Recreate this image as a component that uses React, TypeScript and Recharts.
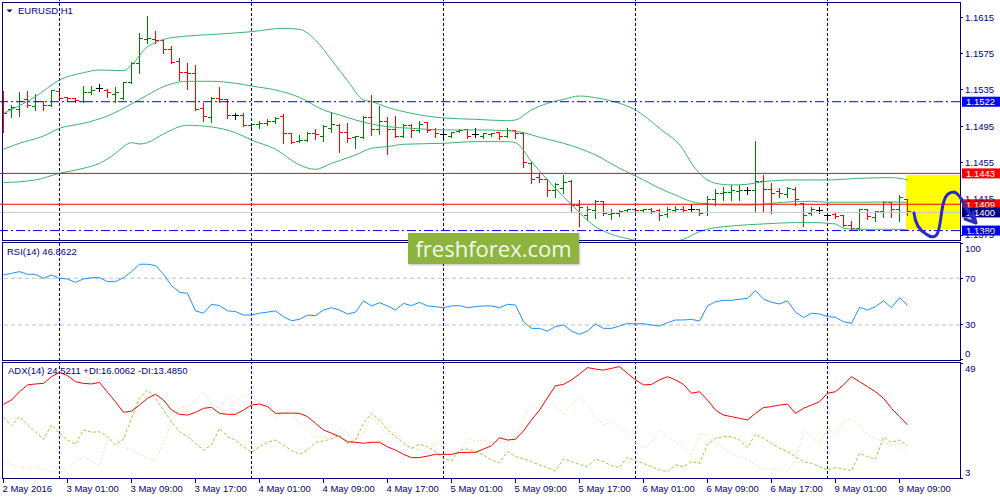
import React from 'react';
import { ComposedChart, Bar, Line, XAxis, YAxis, ReferenceLine, ReferenceArea } from 'recharts';

// ---------- titles ----------
const symbolTitle = 'EURUSD,H1';
const rsiTitle = 'RSI(14) 46.8622';
const adxTitle = 'ADX(14) 24.5211 +DI:16.0062 -DI:13.4850';

// ---------- OHLC (H1 bars, 2 May 17:00 -> 9 May 10:00) ----------
const opens = [
  1.15276, 1.15129, 1.15136, 1.15239, 1.15166, 1.15221, 1.1518, 1.15335, 1.15268, 1.15254,
  1.15221, 1.15327, 1.15364, 1.15349, 1.15305, 1.15254, 1.1543, 1.15643, 1.15908, 1.15908,
  1.15893, 1.1579, 1.15658, 1.1554, 1.15526, 1.15144, 1.15048, 1.15254, 1.15239, 1.15063,
  1.15063, 1.14953, 1.14967, 1.14982, 1.15004, 1.15055, 1.14865, 1.14784, 1.14798, 1.14872,
  1.14835, 1.14927, 1.1496, 1.14879, 1.14828, 1.14828, 1.15048, 1.14916, 1.14997, 1.14916,
  1.14842, 1.1496, 1.14901, 1.14989, 1.14916, 1.14857, 1.14842, 1.14894, 1.14909, 1.14857,
  1.14835, 1.14857, 1.14879, 1.14842, 1.14901, 1.14872, 1.14541, 1.14387, 1.14358, 1.14247,
  1.14266, 1.14343, 1.14079, 1.13961, 1.1402, 1.14123, 1.13972, 1.13983, 1.1402, 1.14027,
  1.1402, 1.14034, 1.1402, 1.13972, 1.1402, 1.14034, 1.14034, 1.14027, 1.14093, 1.14145,
  1.14203, 1.14218, 1.14233, 1.14247, 1.14247, 1.14339, 1.14255, 1.14229, 1.14196, 1.14255,
  1.14093, 1.1399, 1.1402, 1.13961, 1.13976, 1.13961, 1.13858, 1.13821, 1.14027, 1.13946,
  1.14005, 1.14108, 1.14027, 1.14137,
];
const highs = [
  1.15342, 1.1518, 1.15327, 1.15342, 1.15305, 1.15228, 1.15349, 1.15342, 1.15276, 1.15265,
  1.15393, 1.15393, 1.15412, 1.15364, 1.15379, 1.15441, 1.15654, 1.15974, 1.16168, 1.15999,
  1.159, 1.15834, 1.15698, 1.15643, 1.15625, 1.15202, 1.15268, 1.15379, 1.15254, 1.151,
  1.15092, 1.14989, 1.15011, 1.15026, 1.15055, 1.15085, 1.14872, 1.1485, 1.14886, 1.14923,
  1.14964, 1.15111, 1.14974, 1.14989, 1.14842, 1.15063, 1.15294, 1.15173, 1.15048, 1.15063,
  1.14974, 1.14974, 1.15011, 1.14997, 1.14931, 1.14909, 1.14886, 1.14916, 1.14916, 1.14927,
  1.14879, 1.14879, 1.14886, 1.14931, 1.14909, 1.14886, 1.1456, 1.14438, 1.14365, 1.14328,
  1.14413, 1.14358, 1.14137, 1.14071, 1.14137, 1.1413, 1.14034, 1.14027, 1.14042, 1.14045,
  1.14042, 1.14045, 1.14034, 1.14056, 1.14071, 1.14071, 1.14093, 1.14034, 1.14181, 1.14255,
  1.14277, 1.14303, 1.14303, 1.14284, 1.14791, 1.14413, 1.14321, 1.14266, 1.14277, 1.14277,
  1.14101, 1.14064, 1.14056, 1.1399, 1.1399, 1.13972, 1.13909, 1.14034, 1.14034, 1.1402,
  1.14123, 1.14119, 1.14189, 1.14145,
];
const lows = [
  1.1489, 1.15048, 1.15066, 1.15166, 1.15129, 1.15129, 1.15173, 1.15239, 1.15228, 1.15213,
  1.15213, 1.15305, 1.15342, 1.15276, 1.15213, 1.15254, 1.15423, 1.1554, 1.15864, 1.15864,
  1.15753, 1.15643, 1.1546, 1.15357, 1.15129, 1.15011, 1.15, 1.15221, 1.15041, 1.15026,
  1.14953, 1.14916, 1.14934, 1.1496, 1.14989, 1.14769, 1.14762, 1.14776, 1.14784, 1.14813,
  1.14784, 1.1489, 1.1467, 1.1478, 1.14714, 1.1482, 1.14853, 1.14865, 1.14644, 1.14835,
  1.14835, 1.14835, 1.1489, 1.1489, 1.14828, 1.14828, 1.14835, 1.14886, 1.14817, 1.14835,
  1.1482, 1.14842, 1.14806, 1.14835, 1.1482, 1.14505, 1.14321, 1.14339, 1.14181, 1.14167,
  1.14211, 1.1402, 1.13847, 1.13917, 1.13935, 1.13972, 1.13924, 1.13961, 1.14005, 1.13998,
  1.14005, 1.1399, 1.13917, 1.13954, 1.14005, 1.14005, 1.1402, 1.13972, 1.13972, 1.14082,
  1.14137, 1.14137, 1.14137, 1.14203, 1.14009, 1.1402, 1.13998, 1.14174, 1.14174, 1.14082,
  1.13851, 1.13972, 1.1399, 1.13935, 1.13935, 1.13847, 1.13807, 1.13807, 1.13924, 1.13909,
  1.13954, 1.13946, 1.13909, 1.13972,
];
const closes = [
  1.15092, 1.15158, 1.15221, 1.15173, 1.15221, 1.15173, 1.15342, 1.15254, 1.15254, 1.15228,
  1.15324, 1.15349, 1.15364, 1.1532, 1.15327, 1.15437, 1.15643, 1.15922, 1.15919, 1.15893,
  1.1579, 1.1565, 1.1554, 1.15526, 1.15136, 1.15055, 1.15254, 1.15239, 1.1507, 1.15063,
  1.1496, 1.14967, 1.14982, 1.14997, 1.15033, 1.14865, 1.14776, 1.14791, 1.14872, 1.14857,
  1.14945, 1.14974, 1.14879, 1.1482, 1.14835, 1.15048, 1.14916, 1.14997, 1.14916, 1.14842,
  1.14953, 1.14901, 1.14964, 1.14901, 1.14865, 1.14857, 1.14879, 1.14905, 1.14842, 1.14857,
  1.14872, 1.14865, 1.14835, 1.14901, 1.14865, 1.14549, 1.14358, 1.14365, 1.14247, 1.14303,
  1.14328, 1.14071, 1.14056, 1.14027, 1.14123, 1.13983, 1.1399, 1.14012, 1.14027, 1.1402,
  1.14027, 1.14012, 1.13961, 1.14027, 1.14034, 1.1402, 1.14034, 1.13983, 1.14145, 1.14211,
  1.14225, 1.14247, 1.14247, 1.14247, 1.14339, 1.14255, 1.14211, 1.14203, 1.14262, 1.14137,
  1.13961, 1.14034, 1.1402, 1.13961, 1.13954, 1.13858, 1.13821, 1.14027, 1.13954, 1.14005,
  1.14108, 1.14027, 1.14167, 1.14005,
];

// ---------- Bollinger bands (read at sample bars) ----------
const upperIdx = [0, 4, 7, 10, 12, 15, 16, 18, 19, 20, 23, 27, 31, 35, 37, 39, 41, 43, 45, 46, 48, 51, 55, 59, 63, 64, 66, 68, 70, 72, 74, 76, 79, 82, 85, 86, 87, 89, 91, 93, 95, 99, 103, 107, 111, 113];
const upperVal = [1.15092, 1.15276, 1.1546, 1.1554, 1.1557, 1.15562, 1.15625, 1.15827, 1.15871, 1.15908, 1.15944, 1.15966, 1.15992, 1.16029, 1.16018, 1.159, 1.1568, 1.15452, 1.15239, 1.15221, 1.15158, 1.15092, 1.15041, 1.15026, 1.15011, 1.15019, 1.15129, 1.15202, 1.15246, 1.15283, 1.15265, 1.15228, 1.15129, 1.14927, 1.14688, 1.14541, 1.14431, 1.14321, 1.14303, 1.1431, 1.14339, 1.14358, 1.14358, 1.14376, 1.14383, 1.14358];
const midIdx = [0, 2, 5, 7, 10, 13, 16, 18, 20, 22, 23, 26, 29, 31, 34, 37, 40, 42, 44, 46, 48, 51, 55, 59, 63, 65, 67, 70, 74, 77, 80, 82, 84, 86, 88, 91, 94, 96, 99, 101, 103, 107, 111, 113];
const midVal = [1.14696, 1.14762, 1.14842, 1.14927, 1.14982, 1.15063, 1.15195, 1.15294, 1.15386, 1.15437, 1.15445, 1.15445, 1.15423, 1.15393, 1.15349, 1.15268, 1.15129, 1.15074, 1.15019, 1.14974, 1.14945, 1.14927, 1.14909, 1.14909, 1.14901, 1.14879, 1.14828, 1.14762, 1.14633, 1.14486, 1.14358, 1.14266, 1.14192, 1.14119, 1.14093, 1.14082, 1.14082, 1.14101, 1.14119, 1.14123, 1.14112, 1.14112, 1.14115, 1.14112];
const lowerIdx = [0, 4, 7, 10, 12, 14, 15, 16, 17, 18, 20, 23, 26, 29, 31, 34, 37, 39, 41, 42, 44, 46, 48, 50, 55, 59, 63, 64, 66, 68, 70, 72, 74, 76, 78, 80, 82, 85, 87, 89, 91, 95, 99, 101, 104, 105, 107, 111, 113];
const lowerVal = [1.14328, 1.14358, 1.14431, 1.14486, 1.14541, 1.14651, 1.14725, 1.14769, 1.14754, 1.14769, 1.14865, 1.1496, 1.14942, 1.14879, 1.14798, 1.14696, 1.14523, 1.14475, 1.14541, 1.14571, 1.14633, 1.14707, 1.14725, 1.14751, 1.14762, 1.1478, 1.1478, 1.14769, 1.1456, 1.14358, 1.14174, 1.13998, 1.13843, 1.13759, 1.13711, 1.13675, 1.1366, 1.13704, 1.13788, 1.13832, 1.13851, 1.13873, 1.13888, 1.13888, 1.13873, 1.13825, 1.13814, 1.13814, 1.1381];

// ---------- RSI(14) ----------
const rsi = [
  72.8, 74.2, 75.7, 73.4, 73.4, 70.0, 72.8, 70.0, 69.4, 66.5,
  69.4, 70.5, 70.5, 67.1, 67.1, 70.5, 75.7, 82.0, 82.0, 80.9,
  73.4, 63.7, 58.0, 57.1, 42.1, 40.1, 47.7, 46.6, 42.1, 41.5,
  38.5, 38.5, 40.1, 41.0, 42.1, 37.1, 33.7, 34.8, 38.5, 38.0,
  42.8, 44.8, 42.8, 39.4, 41.0, 50.6, 46.3, 49.1, 46.3, 42.8,
  48.5, 46.6, 49.4, 46.3, 45.7, 44.8, 46.3, 46.6, 44.8, 45.7,
  46.3, 46.3, 44.8, 47.7, 47.1, 32.8, 27.1, 27.1, 24.8, 28.6,
  30.0, 24.8, 22.0, 24.8, 30.8, 27.1, 27.1, 29.1, 31.4, 30.8,
  31.1, 30.0, 29.1, 32.0, 34.3, 34.3, 34.8, 33.4, 46.3, 50.0,
  51.1, 51.1, 52.0, 52.8, 59.4, 52.2, 49.4, 48.0, 50.6, 41.0,
  36.4, 40.1, 39.5, 37.1, 36.6, 32.8, 31.4, 45.1, 42.8, 45.7,
  50.8, 44.8, 53.4, 46.9,
];

// ---------- ADX(14) ----------
const adx = [
  32.7, 34.4, 37.7, 40.4, 40.8, 41.0, 43.7, 45.4, 44.1, 41.7,
  41.0, 40.8, 41.4, 37.5, 33.7, 29.5, 30.0, 32.4, 35.1, 36.7,
  34.4, 30.4, 28.7, 28.4, 29.5, 31.1, 31.5, 29.1, 28.7, 28.7,
  30.4, 32.4, 32.8, 31.8, 29.1, 29.2, 29.2, 29.1, 27.8, 25.1,
  22.5, 21.2, 19.8, 17.8, 17.6, 17.2, 17.6, 17.6, 15.8, 14.5,
  12.8, 11.5, 11.5, 12.1, 12.8, 12.8, 12.8, 13.5, 13.6, 13.6,
  14.9, 16.2, 19.4, 18.5, 18.8, 22.1, 26.5, 30.4, 35.3, 40.1,
  40.6, 42.4, 44.7, 47.3, 46.7, 46.3, 47.0, 47.7, 45.0, 42.4,
  40.4, 40.6, 42.4, 43.7, 42.4, 40.6, 37.1, 37.7, 34.4, 30.4,
  28.4, 27.8, 27.1, 26.5, 29.1, 31.4, 31.8, 32.4, 32.8, 29.1,
  31.1, 32.4, 33.7, 37.1, 37.7, 40.4, 43.7, 41.7, 39.7, 37.7,
  35.1, 31.1, 27.8, 24.5,
];
const plusDI = [
  27.4, 24.2, 27.8, 24.5, 21.8, 18.8, 24.5, 21.2, 18.5, 16.8,
  22.5, 21.6, 21.8, 19.8, 16.5, 18.9, 27.1, 35.1, 38.4, 35.1,
  30.4, 25.8, 21.8, 19.8, 17.2, 14.5, 16.5, 23.1, 19.8, 18.5,
  15.8, 13.6, 15.8, 17.6, 18.5, 16.5, 14.3, 12.8, 14.5, 17.6,
  18.1, 18.9, 20.5, 17.2, 18.5, 25.1, 29.1, 26.5, 22.5, 19.8,
  17.2, 15.2, 16.8, 15.8, 13.9, 11.2, 10.2, 14.5, 14.9, 13.9,
  12.5, 10.5, 9.5, 13.9, 11.9, 11.0, 9.9, 8.6, 7.5, 6.2,
  11.0, 9.9, 8.8, 7.9, 11.0, 9.9, 8.3, 7.5, 11.6, 10.2,
  9.2, 7.9, 6.6, 5.9, 8.6, 7.9, 9.9, 9.2, 16.8, 19.2,
  19.8, 19.8, 18.5, 15.5, 20.8, 19.2, 17.2, 15.2, 13.9, 11.9,
  9.9, 9.2, 7.9, 6.6, 7.5, 7.0, 6.2, 13.2, 11.9, 10.8,
  19.6, 17.6, 18.5, 16.0,
];
const minusDI = [
  10.2, 8.8, 7.9, 7.0, 7.9, 6.6, 5.9, 5.6, 6.6, 9.9,
  11.9, 10.2, 8.3, 18.5, 19.2, 15.8, 14.5, 12.8, 11.2, 10.5,
  17.8, 25.8, 31.1, 31.8, 33.7, 37.7, 32.4, 31.1, 35.7, 33.1,
  36.4, 36.4, 33.1, 30.4, 27.8, 29.5, 28.7, 25.1, 22.5, 19.4,
  19.8, 19.2, 23.1, 21.2, 17.8, 21.2, 27.8, 23.8, 20.5, 21.8,
  17.6, 15.2, 14.5, 13.2, 17.8, 15.8, 13.2, 13.6, 19.2, 18.1,
  18.5, 17.2, 18.1, 17.6, 18.1, 27.1, 33.1, 29.8, 35.7, 32.4,
  29.1, 32.4, 35.7, 32.4, 27.8, 24.5, 25.8, 23.8, 20.5, 17.6,
  15.5, 17.8, 22.5, 19.8, 17.8, 15.2, 12.5, 21.2, 20.5, 17.2,
  15.2, 13.2, 11.9, 10.5, 8.6, 7.0, 7.0, 6.6, 5.9, 10.5,
  22.1, 19.8, 17.2, 23.1, 20.8, 25.8, 27.1, 24.5, 20.5, 19.2,
  17.8, 16.2, 17.2, 13.5,
];

// ---------- axes ----------
const xTickIdx = [0, 8, 16, 24, 32, 40, 48, 56, 64, 72, 80, 88, 96, 104, 112];
const xTickLabels = ['2 May 2016', '3 May 01:00', '3 May 09:00', '3 May 17:00', '4 May 01:00', '4 May 09:00', '4 May 17:00', '5 May 01:00', '5 May 09:00', '5 May 17:00', '6 May 01:00', '6 May 09:00', '6 May 17:00', '9 May 01:00', '9 May 09:00'];
const daySeparatorIdx = [7, 31, 55, 79, 103];
const priceTicks = [1.1375, 1.1415, 1.1455, 1.1495, 1.1535, 1.1575, 1.1615];
const rsiTicks = [0, 30, 70, 100];
const rsiLevels = [30, 70];
const adxTicks = [3, 49];

// ---------- horizontal levels & highlight box ----------
const levelPrices = [1.1522, 1.1443, 1.1409, 1.14, 1.138];
const levelKinds = ['blue', 'red', 'red', 'bid', 'blue'];
const boxIdx = [112.8, 119.5625];
const boxPrice = [1.13814, 1.14413];

// ---------- layout / style ----------
const FONT = "'Liberation Sans', Arial, sans-serif";
const NAVY = '#000080';
const PLOT_W = 960;
const X_DOMAIN = [-0.4375, 119.5625];
const PRICE_DOMAIN = [1.13685, 1.16341];
const RSI_DOMAIN = [-0.857, 101.07];
const ADX_DOMAIN = [2.996, 49.517];
const FS = 9.5;

const bars = opens.map((o, i) => ({ i, open: o, high: highs[i], low: lows[i], close: closes[i] }));
const upperData = upperIdx.map((i, k) => ({ i, v: upperVal[k] }));
const midData = midIdx.map((i, k) => ({ i, v: midVal[k] }));
const lowerData = lowerIdx.map((i, k) => ({ i, v: lowerVal[k] }));
const rsiRows = rsi.map((v, i) => ({ i, rsi: v }));
const adxRows = adx.map((v, i) => ({ i, adx: v, pdi: plusDI[i], ndi: minusDI[i] }));

const levelStyle: Record<string, { stroke: string; dash?: string; tag: string }> = {
  blue: { stroke: '#0000ff', dash: '9 3 2 3', tag: '#0000ff' },
  red: { stroke: '#ff0000', tag: '#ff0000' },
  bid: { stroke: '#c8c8c8', tag: '#000080' },
};

const crisp = (v: number) => Math.round(v - 0.5) + 0.5;

function OhlcShape(props: any) {
  const { x, y, width, height, payload } = props;
  if (!payload || x == null || y == null) return null;
  const top = Math.min(y, y + height);
  const h = Math.abs(height);
  const range = payload.high - payload.low;
  const cx = Math.floor(x + width / 2) + 0.5;
  const per = range > 0 ? h / range : 0;
  const oy = crisp(top + (payload.high - payload.open) * per);
  const cy = crisp(top + (payload.high - payload.close) * per);
  const color = payload.close > payload.open ? '#008000' : payload.close < payload.open ? '#ff0000' : '#000000';
  return (
    <g stroke={color} strokeWidth={1} shapeRendering="crispEdges">
      <line x1={cx} x2={cx} y1={Math.round(top)} y2={Math.round(top + h) + 1} />
      <line x1={Math.max(cx - 3.5, 3)} x2={cx} y1={oy} y2={oy} />
      <line x1={cx} x2={cx + 3.5} y1={cy} y2={cy} />
    </g>
  );
}

function ValueTick(props: any) {
  const { y, payload, ticks, shiftTop = 0, shiftBottom = 0, digits = 0 } = props;
  const v = payload.value;
  let ty = y;
  if (ticks && v === Math.max(...ticks)) ty += shiftTop;
  if (ticks && v === Math.min(...ticks)) ty += shiftBottom;
  return (
    <g>
      <line x1={PLOT_W} x2={PLOT_W + 3} y1={crisp(y)} y2={crisp(y)} stroke={NAVY} />
      <text x={PLOT_W + 5} y={ty} dy="0.35em" fill={NAVY} fontSize={FS} fontFamily={FONT}>
        {Number(v).toFixed(digits)}
      </text>
    </g>
  );
}

function TimeTick(props: any) {
  const { x, y, payload } = props;
  const k = xTickIdx.indexOf(payload.value);
  return (
    <g>
      <line x1={x} x2={x} y1={y} y2={y + 4} stroke={NAVY} />
      <text x={x - 1} y={y + 10} dy="0.35em" fill={NAVY} fontSize={FS} fontFamily={FONT}>
        {k >= 0 ? xTickLabels[k] : ''}
      </text>
    </g>
  );
}

function PriceTag(props: any) {
  const { viewBox, text, bg } = props;
  if (!viewBox) return null;
  const y = viewBox.y;
  const x = viewBox.x + viewBox.width + 2;
  return (
    <g>
      <rect x={x} y={y - 5} width={38} height={10} fill={bg} />
      <text x={x + 4} y={y} dy="0.35em" fill="#ffffff" fontSize={FS} fontFamily={FONT}>
        {text}
      </text>
    </g>
  );
}

const separators = () =>
  daySeparatorIdx.map((i) => (
    <ReferenceLine key={'sep' + i} x={i} stroke={NAVY} strokeDasharray="3 2" strokeWidth={1} />
  ));

const lineCommon = { dot: false, activeDot: false, isAnimationActive: false, strokeWidth: 1, legendType: 'none' as const };

export default function App() {
  return (
    <div style={{ position: 'absolute', left: 0, top: 0, width: 1000, height: 500, background: '#ffffff', overflow: 'hidden' }}>
      {/* main price pane */}
      <div style={{ position: 'absolute', left: 0, top: 0 }}>
        <ComposedChart width={1000} height={241} data={bars} margin={{ top: 0, right: 0, bottom: 0, left: 0 }}>
          <XAxis dataKey="i" type="number" domain={X_DOMAIN} hide allowDataOverflow />
          <YAxis
            orientation="right"
            width={40}
            domain={PRICE_DOMAIN}
            ticks={priceTicks}
            interval={0}
            allowDataOverflow
            axisLine={false}
            tickLine={false}
            tickSize={0}
            tickMargin={0}
            tick={<ValueTick digits={4} />}
          />
          <ReferenceArea x1={boxIdx[0]} x2={boxIdx[1]} y1={boxPrice[0]} y2={boxPrice[1]} fill="#ffff00" fillOpacity={1} stroke="none" />
          {separators()}
          <Line data={upperData} dataKey="v" type="monotone" stroke="#3cb371" {...lineCommon} />
          <Line data={midData} dataKey="v" type="monotone" stroke="#3cb371" {...lineCommon} />
          <Line data={lowerData} dataKey="v" type="monotone" stroke="#3cb371" {...lineCommon} />
          <Bar dataKey={(d: any) => [d.low, d.high]} barSize={6} shape={<OhlcShape />} isAnimationActive={false} />
          {levelPrices.map((p, k) => {
            const st = levelStyle[levelKinds[k]];
            return (
              <ReferenceLine
                key={'lvl' + k}
                y={p}
                stroke={st.stroke}
                strokeDasharray={st.dash}
                strokeWidth={1}
                label={<PriceTag text={p.toFixed(4)} bg={st.tag} />}
              />
            );
          })}
        </ComposedChart>
      </div>

      {/* RSI pane */}
      <div style={{ position: 'absolute', left: 0, top: 242 }}>
        <ComposedChart width={1000} height={119} data={rsiRows} margin={{ top: 0, right: 0, bottom: 0, left: 0 }}>
          <XAxis dataKey="i" type="number" domain={X_DOMAIN} hide allowDataOverflow />
          <YAxis
            orientation="right"
            width={40}
            domain={RSI_DOMAIN}
            ticks={rsiTicks}
            interval={0}
            allowDataOverflow
            axisLine={false}
            tickLine={false}
            tickSize={0}
            tickMargin={0}
            tick={<ValueTick ticks={rsiTicks} shiftTop={5.7} shiftBottom={-6.7} />}
          />
          {separators()}
          {rsiLevels.map((l) => (
            <ReferenceLine key={'rl' + l} y={l} stroke="#c0c0c0" strokeDasharray="4 3" strokeWidth={1} />
          ))}
          <Line dataKey="rsi" type="linear" stroke="#1e90ff" {...lineCommon} />
        </ComposedChart>
      </div>

      {/* ADX pane */}
      <div style={{ position: 'absolute', left: 0, top: 362 }}>
        <ComposedChart width={1000} height={138} data={adxRows} margin={{ top: 0, right: 0, bottom: 0, left: 0 }}>
          <XAxis
            dataKey="i"
            type="number"
            domain={X_DOMAIN}
            allowDataOverflow
            ticks={xTickIdx}
            interval={0}
            height={21}
            axisLine={false}
            tickLine={false}
            tickSize={0}
            tickMargin={0}
            tick={<TimeTick />}
          />
          <YAxis
            orientation="right"
            width={40}
            domain={ADX_DOMAIN}
            ticks={adxTicks}
            interval={0}
            allowDataOverflow
            axisLine={false}
            tickLine={false}
            tickSize={0}
            tickMargin={0}
            tick={<ValueTick ticks={adxTicks} shiftTop={5.7} shiftBottom={-6.7} />}
          />
          {separators()}
          <Line dataKey="ndi" type="linear" stroke="#f5deb3" strokeDasharray="2 2" {...lineCommon} />
          <Line dataKey="pdi" type="linear" stroke="#9acd32" strokeDasharray="3 2" {...lineCommon} />
          <Line dataKey="adx" type="linear" stroke="#ff0000" {...lineCommon} />
        </ComposedChart>
      </div>

      {/* frames and titles */}
      <svg width={1000} height={500} style={{ position: 'absolute', left: 0, top: 0, pointerEvents: 'none' }}>
        <g fill="none" stroke={NAVY} strokeWidth={1} shapeRendering="crispEdges">
          <rect x={2.5} y={2.5} width={958} height={238} />
          <rect x={2.5} y={242.5} width={958} height={118} />
          <rect x={2.5} y={362.5} width={958} height={116} />
        </g>
        <path d="M6.5 9.5 H12.5 L9.5 12.5 Z" fill={NAVY} />
        <text x={18} y={10.5} dy="0.35em" fill={NAVY} fontSize={FS} fontFamily={FONT}>{symbolTitle}</text>
        <text x={7} y={251.7} dy="0.35em" fill={NAVY} fontSize={FS} fontFamily={FONT}>{rsiTitle}</text>
        <text x={8} y={371} dy="0.35em" fill={NAVY} fontSize={FS} fontFamily={FONT}>{adxTitle}</text>
      </svg>

      {/* watermark */}
      <div
        style={{
          position: 'absolute',
          left: 408,
          top: 233,
          width: 171,
          height: 31,
          background: '#8db43e',
          boxShadow: '1px 1px 2px rgba(0,0,0,0.25)',
          color: '#f4f8ec',
          fontFamily: "'Open Sans', sans-serif",
          fontSize: 22,
          lineHeight: '31px',
          textAlign: 'center',
          letterSpacing: 0,
        }}
      >
        freshforex.com
      </div>

      {/* hand-drawn forecast arrow */}
      <svg width={1000} height={500} style={{ position: 'absolute', left: 0, top: 0, pointerEvents: 'none' }}>
        <path
          d="M914 213 C915 222 919 230 926 234 C931 238 936 238 938 232 C941 224 941 210 944 201 C946 194 950 192 954 192 C958 193 961 198 964 204 C967 210 971 216 975 222"
          fill="none"
          stroke="#2a2ac8"
          strokeWidth={3}
          strokeLinecap="round"
          strokeLinejoin="round"
        />
        <path d="M965 219 L976 223 L973 212" fill="none" stroke="#2a2ac8" strokeWidth={3} strokeLinecap="round" strokeLinejoin="round" />
      </svg>
    </div>
  );
}
